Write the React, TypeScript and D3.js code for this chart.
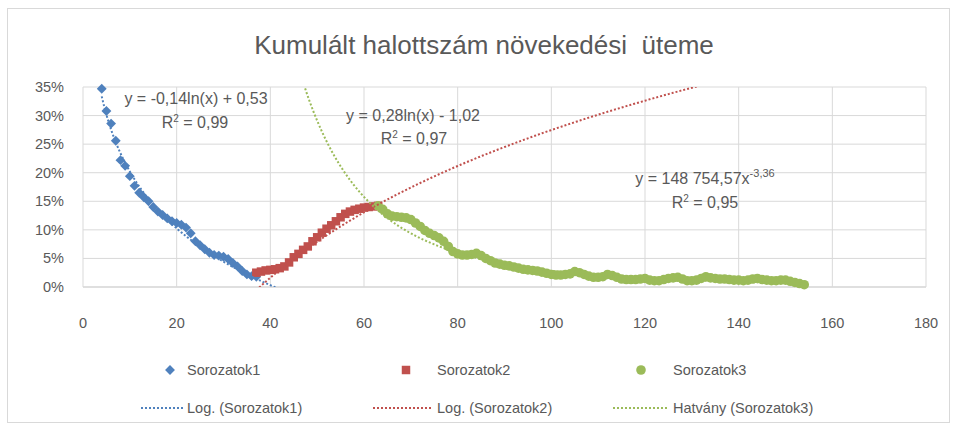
import React from "react";
import * as d3 from "d3";

// daily values, x = day index
const blueStart = 4;
const blueValues = [
  0.347, 0.308, 0.286, 0.256, 0.222, 0.212, 0.194, 0.177, 0.165, 0.157,
  0.15, 0.14, 0.132, 0.126, 0.12, 0.115, 0.112, 0.109, 0.104, 0.094,
  0.08, 0.073, 0.066, 0.06, 0.056, 0.055, 0.053, 0.049, 0.042, 0.036,
  0.028, 0.022, 0.019, 0.018,
];
const redStart = 37;
const redValues = [
  0.025, 0.027, 0.029, 0.03, 0.031, 0.033, 0.036, 0.043, 0.052, 0.058,
  0.065, 0.071, 0.08, 0.087, 0.095, 0.102, 0.108, 0.115, 0.122, 0.128,
  0.132, 0.135, 0.137, 0.139, 0.14, 0.141, 0.142,
];
const greenStart = 63;
const greenValues = [
  0.142, 0.136, 0.128, 0.124, 0.123, 0.122, 0.121, 0.118, 0.112, 0.106,
  0.099, 0.094, 0.09, 0.086, 0.08, 0.071, 0.062, 0.058, 0.056, 0.056,
  0.057, 0.059, 0.055, 0.05, 0.046, 0.042, 0.04, 0.038, 0.037, 0.035,
  0.033, 0.031, 0.03, 0.029, 0.028, 0.026, 0.024, 0.022, 0.021, 0.021,
  0.022, 0.023, 0.027, 0.025, 0.022, 0.019, 0.017, 0.017, 0.018, 0.022,
  0.02, 0.017, 0.014, 0.013, 0.013, 0.013, 0.014, 0.015, 0.012, 0.011,
  0.011, 0.013, 0.015, 0.016, 0.017, 0.014, 0.011, 0.011, 0.012, 0.015,
  0.018, 0.016, 0.015, 0.014, 0.014, 0.013, 0.012, 0.012, 0.011, 0.012,
  0.014, 0.015, 0.013, 0.012, 0.011, 0.011, 0.012, 0.012, 0.01, 0.008,
  0.006, 0.004,
];

// trendline fits (as shown in the labels)
const log1 = { a: -0.1435, b: 0.5325, from: 4, to: 46 };
const log2 = { a: 0.282, b: -1.024, from: 37, to: 180 };
const pow3 = { c: 148754.57, k: -3.36, from: 45, to: 154 };

const xTicks = [0, 20, 40, 60, 80, 100, 120, 140, 160, 180];
const yTicks = [0, 0.05, 0.1, 0.15, 0.2, 0.25, 0.3, 0.35];

const BLUE = "#4F81BD";
const RED = "#C0504D";
const GREEN = "#9BBB59";
const TEXT = "#595959";
const GRID = "#D9D9D9";
const FONT = "'Liberation Sans', Arial, sans-serif";

export default function App() {
  const x = d3.scaleLinear().domain([0, 180]).range([83, 926]);
  const y = d3.scaleLinear().domain([0, 0.35]).range([287, 87]);

  const toPoints = (start: number, vals: number[]) =>
    vals.map((v, i) => [start + i, v] as [number, number]);
  const blue = toPoints(blueStart, blueValues);
  const red = toPoints(redStart, redValues);
  const green = toPoints(greenStart, greenValues);

  const line = d3
    .line<[number, number]>()
    .x((d) => x(d[0]))
    .y((d) => y(d[1]));

  const sample = (from: number, to: number, f: (t: number) => number) =>
    d3.range(from, to + 0.001, 0.25).map((t) => [t, f(t)] as [number, number]);

  const t1 = sample(log1.from, log1.to, (t) => log1.a * Math.log(t) + log1.b);
  const t2 = sample(log2.from, log2.to, (t) => log2.a * Math.log(t) + log2.b);
  const t3 = sample(pow3.from, pow3.to, (t) => pow3.c * Math.pow(t, pow3.k));

  const diamond = d3.symbol().type(d3.symbolDiamond2).size(62)()!;
  const square = d3.symbol().type(d3.symbolSquare).size(72)()!;
  const dash = "2 2";

  return (
    <svg
      width={956}
      height={430}
      style={{ position: "absolute", left: 0, top: 0, background: "#fff" }}
      fontFamily={FONT}
    >
      <rect x={7.5} y={8.5} width={942} height={414} fill="#fff" stroke="#D9D9D9" />
      <text x={484} y={54} textAnchor="middle" fontSize={26} fill={TEXT}>
        Kumulált halottszám növekedési{"\u00a0\u00a0"}üteme
      </text>

      <defs>
        <clipPath id="plot">
          <rect x={83} y={87} width={843} height={200} />
        </clipPath>
      </defs>

      {/* gridlines */}
      {yTicks.map((t) => (
        <line key={"h" + t} x1={83} x2={926} y1={y(t)} y2={y(t)} stroke={t === 0 ? "#BFBFBF" : GRID} />
      ))}
      {xTicks.map((t) => (
        <line key={"v" + t} x1={x(t)} x2={x(t)} y1={87} y2={287} stroke={GRID} />
      ))}

      {/* tick labels */}
      {yTicks.map((t) => (
        <text key={"yl" + t} x={64} y={y(t) + 5} textAnchor="end" fontSize={14.5} fill={TEXT}>
          {d3.format(".0%")(t)}
        </text>
      ))}
      {xTicks.map((t) => (
        <text key={"xl" + t} x={x(t)} y={328} textAnchor="middle" fontSize={14.5} fill={TEXT}>
          {t}
        </text>
      ))}

      {/* markers */}
      <g>
        {blue.map((d, i) => (
          <path key={"b" + i} d={diamond} transform={`translate(${x(d[0])},${y(d[1])})`} fill={BLUE} />
        ))}
        {red.map((d, i) => (
          <path key={"r" + i} d={square} transform={`translate(${x(d[0])},${y(d[1])})`} fill={RED} />
        ))}
        {green.map((d, i) => (
          <circle key={"g" + i} cx={x(d[0])} cy={y(d[1])} r={4.8} fill={GREEN} />
        ))}
      </g>

      {/* trendlines */}
      <g clipPath="url(#plot)" fill="none" strokeWidth={2} strokeDasharray={dash}>
        <path d={line(t1)!} stroke={BLUE} />
        <path d={line(t2)!} stroke={RED} />
        <path d={line(t3)!} stroke={GREEN} />
      </g>

      {/* equation labels */}
      <g fontSize={16} fill={TEXT} textAnchor="middle">
        <text x={196} y={104}>y = -0,14ln(x) + 0,53</text>
        <text x={195} y={128}>
          R<tspan dy={-6} fontSize={10}>2</tspan><tspan dy={6}> = 0,99</tspan>
        </text>
        <text x={413} y={121}>y = 0,28ln(x) - 1,02</text>
        <text x={414} y={144}>
          R<tspan dy={-6} fontSize={10}>2</tspan><tspan dy={6}> = 0,97</tspan>
        </text>
        <text x={705} y={184}>
          y = 148 754,57x<tspan dy={-7} fontSize={11}>-3,36</tspan>
        </text>
        <text x={705} y={208}>
          R<tspan dy={-6} fontSize={10}>2</tspan><tspan dy={6}> = 0,95</tspan>
        </text>
      </g>

      {/* legend */}
      <g fontSize={14.5} fill={TEXT}>
        <path d={diamond} transform="translate(170,370)" fill={BLUE} />
        <text x={187} y={375}>Sorozatok1</text>
        <path d={square} transform="translate(406,370)" fill={RED} />
        <text x={437} y={375}>Sorozatok2</text>
        <circle cx={641} cy={370} r={4.8} fill={GREEN} />
        <text x={673} y={375}>Sorozatok3</text>

        <line x1={141} x2={183} y1={408} y2={408} stroke={BLUE} strokeWidth={2} strokeDasharray={dash} />
        <text x={187} y={413}>Log. (Sorozatok1)</text>
        <line x1={373} x2={431} y1={408} y2={408} stroke={RED} strokeWidth={2} strokeDasharray={dash} />
        <text x={437} y={413}>Log. (Sorozatok2)</text>
        <line x1={613} x2={667} y1={408} y2={408} stroke={GREEN} strokeWidth={2} strokeDasharray={dash} />
        <text x={673} y={413}>Hatvány (Sorozatok3)</text>
      </g>
    </svg>
  );
}
